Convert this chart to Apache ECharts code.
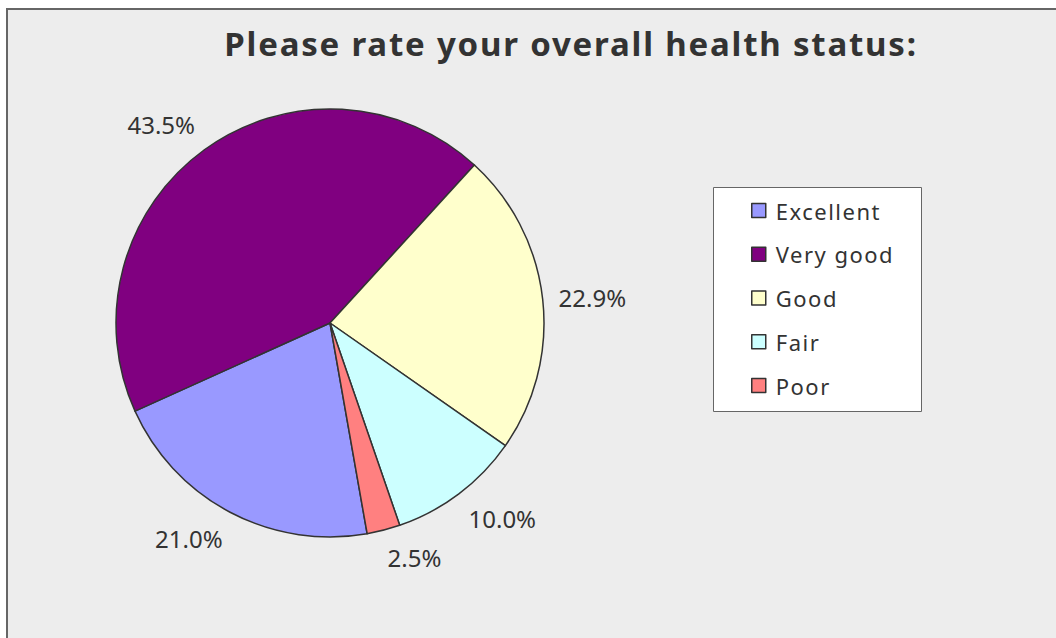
<!DOCTYPE html>
<html><head><meta charset="utf-8">
<script src="https://cdn.jsdelivr.net/npm/echarts@6/dist/echarts.min.js"></script>
<style>
html,body{margin:0;padding:0;background:#fff}
#c{width:1056px;height:638px}
#c text[style*="bold"]{letter-spacing:1.8px}
#c text[style*="22px"]{letter-spacing:1.5px}
</style>
</head><body><div id="c"></div>
<script>
const categories = ['Excellent', 'Very good', 'Good', 'Fair', 'Poor'];
const percentages = [21.0, 43.5, 22.9, 10.0, 2.5];
const sliceColors = ['#9999FF', '#800080', '#FFFFCC', '#CCFFFF', '#FF8080'];
const titleText = 'Please rate your overall health status:';

const CX = 330, CY = 323, R = 214;
const chart = echarts.init(document.getElementById('c'), null, {renderer: 'svg'});
chart.setOption({
  backgroundColor: '#ffffff',
  animation: false,
  title: {
    text: titleText, left: 566, top: 22, textAlign: 'center',
    textStyle: {fontFamily: 'Noto Sans', fontWeight: 'bold', fontSize: 33, color: '#333333'}
  },
  graphic: [
    {type: 'rect', z: -10, shape: {x: 7, y: 9, width: 1100, height: 700},
     style: {fill: '#EDEDED', stroke: '#666666', lineWidth: 2}},
    {type: 'rect', z: -5, shape: {x: 713.5, y: 187.5, width: 208, height: 224},
     style: {fill: '#ffffff', stroke: '#666666', lineWidth: 1}}
  ],
  legend: {
    orient: 'vertical', left: 751, top: 198.5, padding: 0, itemGap: 19.75,
    itemWidth: 14, itemHeight: 14, icon: 'rect', data: categories,
    textStyle: {fontFamily: 'Noto Sans', fontSize: 22, color: '#333333', lineHeight: 24, padding: [0, 0, 0, 5]},
    itemStyle: {borderColor: '#333333', borderWidth: 1.5}
  },
  series: [{
    type: 'pie', center: [CX, CY], radius: R, startAngle: -80, clockwise: true,
    avoidLabelOverlap: false,
    data: categories.map((n, i) => ({name: n, value: percentages[i]})),
    color: sliceColors,
    itemStyle: {borderColor: '#333333', borderWidth: 1.5},
    emphasis: {disabled: true},
    label: {
      show: true, position: 'outside',
      formatter: p => percentages[p.dataIndex].toFixed(1) + '%',
      fontFamily: 'Noto Sans', fontSize: 24, color: '#333333', distanceToLabelLine: 0
    },
    labelLine: {show: false, length: 16, length2: 0},
    labelLayout: p => {
      const my = p.labelRect.y + p.labelRect.height / 2 - CY;
      return {verticalAlign: my < -60 ? 'bottom' : (my > 60 ? 'top' : 'middle')};
    }
  }]
});
</script></body></html>
